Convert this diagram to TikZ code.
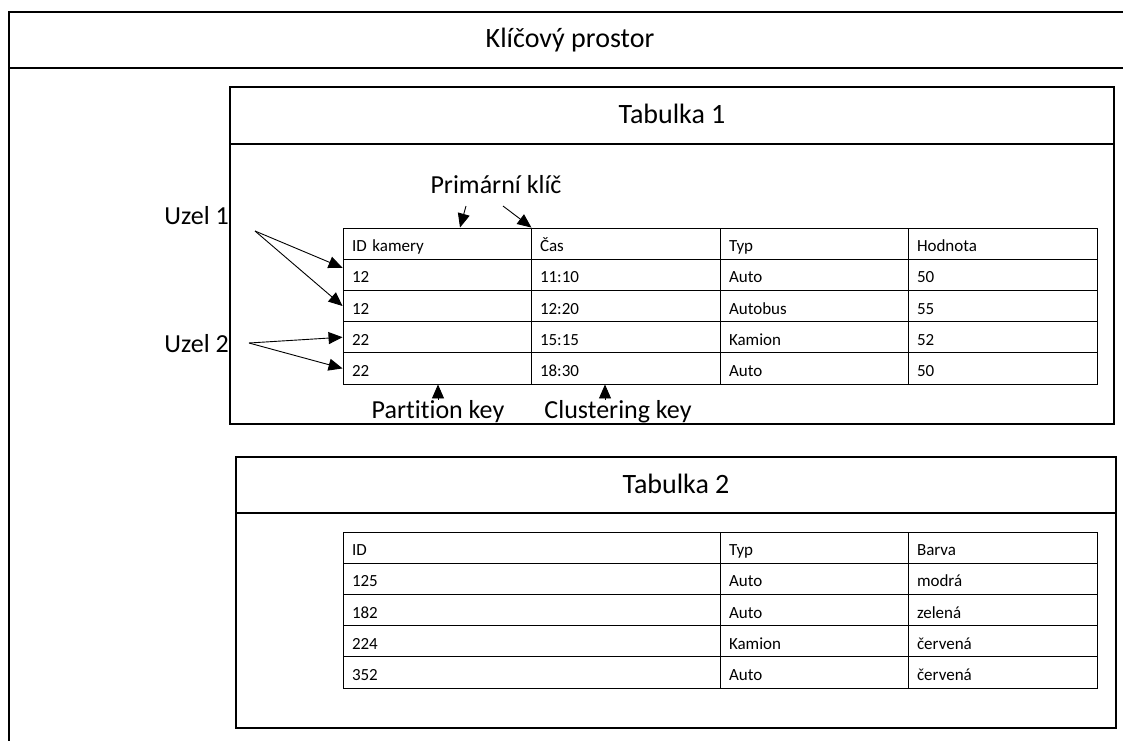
\documentclass[tikz,border=0pt]{standalone}
\usepackage{fontspec}
\setmainfont{Carlito}[Ligatures=NoCommon]
\usetikzlibrary{arrows.meta}

\tikzset{
  frame/.style={line width=1.2pt},
  title/.style={font=\fontsize{28}{34}\selectfont, inner sep=0pt},
  lbl/.style={font=\fontsize{26}{31}\selectfont, inner sep=0pt},
  cell/.style={draw, line width=0.9pt, font=\fontsize{17}{20}\selectfont, align=left,
    inner xsep=9pt, inner ysep=0pt, minimum height=31.2pt, text height=16pt, text depth=0pt},
  arr/.style={line width=0.9pt, -{Triangle[length=14pt,width=12pt]}}
}

\begin{document}
\begin{tikzpicture}[x=1pt,y=-1pt]
        \useasboundingbox (0,0) rectangle (1123,740);
        \clip (0,0) rectangle (1123,740);
        \fill[white] (0,0) rectangle (1123,740);

        \draw[frame] (1130,12) -- (9,12) -- (9,750);
        \draw[frame] (9,68) -- (1130,68);
        \node[title, anchor=base] (ks) at (570,47) {Klíčový prostor};

        \draw[frame] (230,87) rectangle (1114,424);
        \draw[frame] (230,144) -- (1114,144);
        \node[title, anchor=base] (tab1) at (672,123) {Tabulka 1};

        \draw[frame] (236,457) rectangle (1116,728);
        \draw[frame] (236,513) -- (1116,513);
        \node[title, anchor=base] (tab2) at (676,493) {Tabulka 2};

        \foreach \a/\b/\c/\d [count=\i from 0] in {ID kamery/Čas/Typ/Hodnota, 12/11:10/Auto/50,
            12/12:20/Autobus/55, 22/15:15/Kamion/52, 22/18:30/Auto/50} {
          \node[cell, text width=170pt] (t1a\i) at (437,{243.6+31.2*\i}) {\a};
          \node[cell, text width=171pt] (t1b\i) at (625.5,{243.6+31.2*\i}) {\b};
          \node[cell, text width=170pt] (t1c\i) at (814,{243.6+31.2*\i}) {\c};
          \node[cell, text width=171pt] (t1d\i) at (1002.5,{243.6+31.2*\i}) {\d};
        }

        \foreach \a/\c/\d [count=\i from 0] in {ID/Typ/Barva, 125/Auto/modrá, 182/Auto/zelená,
            224/Kamion/červená, 352/Auto/červená} {
          \node[cell, text width=359pt] (t2a\i) at (531.5,{547.6+31.2*\i}) {\a};
          \node[cell, text width=170pt] (t2c\i) at (814,{547.6+31.2*\i}) {\c};
          \node[cell, text width=171pt] (t2d\i) at (1002.5,{547.6+31.2*\i}) {\d};
        }

        \node[lbl, anchor=base east] (uzel1) at (229,224) {Uzel 1};
        \node[lbl, anchor=base east] (uzel2) at (229,352) {Uzel 2};
        \node[lbl, anchor=base] (pkey) at (496,193) {Primární klíč};
        \node[lbl, anchor=base] (partk) at (438,418) {Partition key};
        \node[lbl, anchor=base] (clustk) at (618,418) {Clustering key};

        \coordinate (u1) at (255,231);
        \coordinate (u2) at (249,343);
        \coordinate (pk1) at (466,206);
        \coordinate (pk2) at (503,206);

        \draw[arr] (u1) -- ([yshift=7pt]t1a1.west);
        \draw[arr] (u1) -- (t1a2.west);
        \draw[arr] (u2) -- (t1a3.west);
        \draw[arr] (u2) -- (t1a4.west);
        \draw[arr] (pk1) -- ([xshift=23pt]t1a0.north);
        \draw[arr] (pk2) -- (t1a0.north east);
        \draw[arr] (partk.north) -- (partk.north |- t1a4.south);
        \draw[arr] ([xshift=-13pt]clustk.north) -- ([xshift=-13pt]clustk.north |- t1b4.south);
    \end{tikzpicture}
\end{document}
